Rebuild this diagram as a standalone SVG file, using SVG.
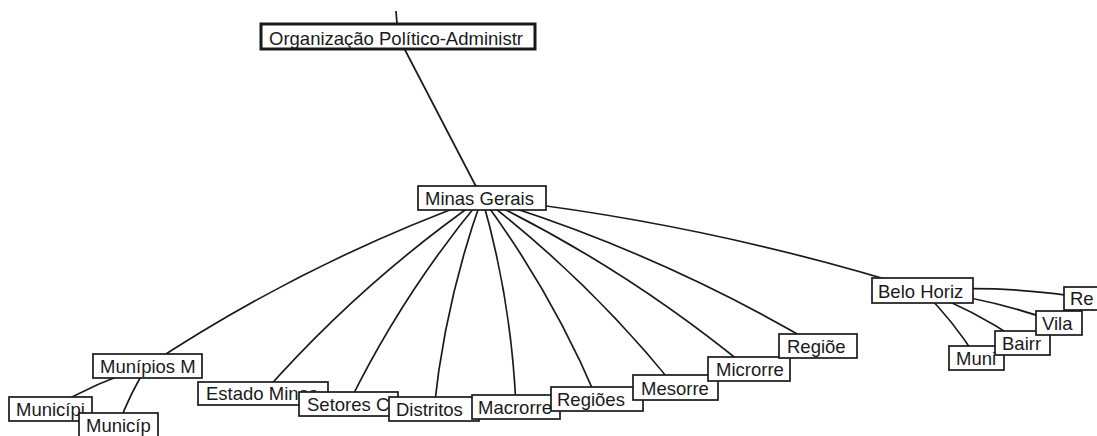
<svg xmlns="http://www.w3.org/2000/svg" width="1097" height="436" viewBox="0 0 1097 436">
  <style>
    .edge { fill: none; stroke: #1a1a1a; stroke-width: 1.7; }
    .node rect { fill: #ffffff; stroke: #1a1a1a; stroke-width: 1.7; }
    .node.root rect { stroke-width: 3; }
    .node text { font-family: "Liberation Sans", Arial, sans-serif; font-size: 18.5px; fill: #1a1a1a; }
  </style>
  <rect width="1097" height="436" fill="#ffffff"/>

  <!-- connectors: centre-to-centre arcs, drawn beneath the nodes -->
  <g id="connectors">
    <path class="edge" d="M396,11 L398,36.5"/>
    <path class="edge" d="M398,36.5 L482,198"/>
    <path class="edge" d="M482,198 Q304.7,261.9 147.5,366"/>
    <path class="edge" d="M482,198 Q360.8,282.6 263,393.5"/>
    <path class="edge" d="M482,198 Q402.9,293 348.5,404"/>
    <path class="edge" d="M482,198 Q445.3,300.6 434,409"/>
    <path class="edge" d="M482,198 Q511.5,300.5 516,407"/>
    <path class="edge" d="M482,198 Q551.6,291.6 597,399"/>
    <path class="edge" d="M482,198 Q590.1,281.2 675.5,387.5"/>
    <path class="edge" d="M482,198 Q625.7,267.5 749,369"/>
    <path class="edge" d="M482,198 Q658.9,251.9 818,346"/>
    <path class="edge" d="M482,198 Q706.8,222.7 922.5,290.5"/>
    <path class="edge" d="M147.5,366 Q96.4,381.7 50.5,409"/>
    <path class="edge" d="M147.5,366 Q129.5,393.8 118.5,425"/>
    <path class="edge" d="M922.5,290.5 Q953.6,321 976.5,358"/>
    <path class="edge" d="M922.5,290.5 Q975.7,310.7 1022.5,343"/>
    <path class="edge" d="M922.5,290.5 Q992.7,298.6 1059,323"/>
    <path class="edge" d="M922.5,290.5 Q1006.2,284.5 1089,298.5"/>
  </g>

  <!-- nodes, later ones painted over earlier ones -->
  <g id="n-root" class="node root">
    <rect x="261" y="24" width="274" height="25"/>
    <text x="269" y="44.5">Organização Político-Administr</text>
  </g>
  <g id="n-minas" class="node">
    <rect x="418" y="186" width="128" height="24"/>
    <text x="425" y="205">Minas Gerais</text>
  </g>
  <g id="n-munipios" class="node">
    <rect x="93" y="354" width="109" height="24"/>
    <text x="100" y="373">Munípios M</text>
  </g>
  <g id="n-municipi" class="node">
    <rect x="9" y="397" width="83" height="24"/>
    <text x="16" y="416">Municípi</text>
  </g>
  <g id="n-municip" class="node">
    <rect x="79" y="413" width="79" height="26"/>
    <text x="86" y="432">Municíp</text>
  </g>
  <g id="n-estado" class="node">
    <rect x="198" y="382" width="130" height="23"/>
    <text x="206" y="400">Estado Minas</text>
  </g>
  <g id="n-setores" class="node">
    <rect x="299" y="392" width="99" height="24"/>
    <text x="307" y="411">Setores C</text>
  </g>
  <g id="n-distritos" class="node">
    <rect x="389" y="397" width="90" height="24"/>
    <text x="396" y="416">Distritos</text>
  </g>
  <g id="n-macrorre" class="node">
    <rect x="472" y="395" width="88" height="24"/>
    <text x="478" y="414">Macrorre</text>
  </g>
  <g id="n-regioes" class="node">
    <rect x="551" y="387" width="92" height="24"/>
    <text x="557" y="406">Regiões</text>
  </g>
  <g id="n-mesorre" class="node">
    <rect x="633" y="375" width="85" height="25"/>
    <text x="641" y="394.5">Mesorre</text>
  </g>
  <g id="n-microrre" class="node">
    <rect x="708" y="357" width="82" height="24"/>
    <text x="716" y="376">Microrre</text>
  </g>
  <g id="n-regioe" class="node">
    <rect x="779" y="334" width="78" height="24"/>
    <text x="787" y="353">Regiõe</text>
  </g>
  <g id="n-belo" class="node">
    <rect x="872" y="278" width="101" height="25"/>
    <text x="878" y="297.5">Belo Horiz</text>
  </g>
  <g id="n-muni" class="node">
    <rect x="949" y="346" width="55" height="24"/>
    <text x="956" y="365">Muni</text>
  </g>
  <g id="n-bairr" class="node">
    <rect x="995" y="331" width="55" height="24"/>
    <text x="1002" y="350">Bairr</text>
  </g>
  <g id="n-vila" class="node">
    <rect x="1036" y="311" width="46" height="24"/>
    <text x="1042" y="330">Vila</text>
  </g>
  <g id="n-re" class="node">
    <rect x="1064" y="287" width="50" height="23"/>
    <text x="1070" y="305">Re</text>
  </g>
</svg>
